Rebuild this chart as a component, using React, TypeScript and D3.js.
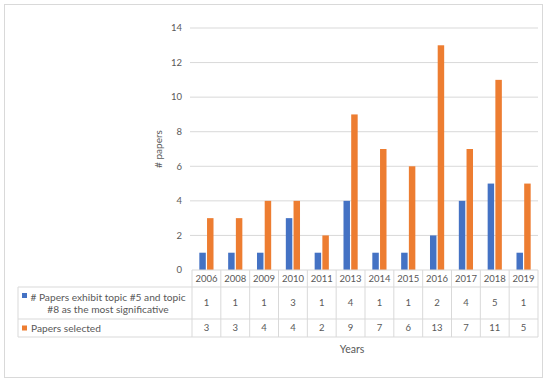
import React from 'react';
import * as d3 from 'd3';

const years = ['2006', '2008', '2009', '2010', '2011', '2013', '2014', '2015', '2016', '2017', '2018', '2019'];
const topicPapers = [1, 1, 1, 3, 1, 4, 1, 1, 2, 4, 5, 1];
const selectedPapers = [3, 3, 4, 4, 2, 9, 7, 6, 13, 7, 11, 5];
const yTicks = [0, 2, 4, 6, 8, 10, 12, 14];
const seriesNames = ['# Papers exhibit topic #5 and topic|#8 as the most significative', 'Papers selected'];
const seriesColors = ['#4472C4', '#ED7D31'];

const width = 550;
const height = 386;
const font = 'Lato, "Open Sans", sans-serif';
const textColor = '#595959';
const lineColor = '#d9d9d9';

export default function App() {
  const x = d3.scaleBand<string>().domain(years).range([192, 538]);
  const y = d3.scaleLinear().domain([0, 14]).range([270, 28]);
  const xInner = d3.scaleBand<string>().domain(['a', 'b'])
    .range([0, x.bandwidth()]).paddingInner(0.16).paddingOuter(0.95);

  const tableLeft = 18;
  const rowHeader = [270, 287];
  const row1 = [287, 319];
  const row2 = [319, 337];
  const series = [topicPapers, selectedPapers];
  const rows = [row1, row2];

  return (
    <svg width={width} height={height} style={{ position: 'absolute', left: 0, top: 0, background: '#fff' }}
      fontFamily={font}>
      <rect x={4.5} y={4.5} width={538} height={373} fill="#fff" stroke={lineColor} />

      {/* grid + y axis */}
      {yTicks.map(t => (
        <g key={t}>
          {t > 0 && <line x1={190} x2={538} y1={y(t)} y2={y(t)} stroke={lineColor} strokeWidth={1} />}
          <text x={182} y={y(t)} dy="0.35em" textAnchor="end" fontSize={9.5} fill={textColor}>{t}</text>
        </g>
      ))}
      <text transform={`translate(162,${(y(0) + y(14)) / 2}) rotate(-90)`} textAnchor="middle"
        fontSize={10} fill={textColor}># papers</text>

      {/* bars */}
      {years.map((yr, i) => (
        <g key={yr} transform={`translate(${x(yr)},0)`}>
          <rect x={xInner('a')} width={xInner.bandwidth()} y={y(topicPapers[i])}
            height={y(0) - y(topicPapers[i])} fill={seriesColors[0]} />
          <rect x={xInner('b')} width={xInner.bandwidth()} y={y(selectedPapers[i])}
            height={y(0) - y(selectedPapers[i])} fill={seriesColors[1]} />
        </g>
      ))}

      {/* data table */}
      <g stroke={lineColor} strokeWidth={1} fill="none">
        <line x1={192} x2={538} y1={rowHeader[0]} y2={rowHeader[0]} />
        <line x1={tableLeft} x2={538} y1={row1[0]} y2={row1[0]} />
        <line x1={tableLeft} x2={538} y1={row2[0]} y2={row2[0]} />
        <line x1={tableLeft} x2={538} y1={row2[1]} y2={row2[1]} />
        <line x1={tableLeft} x2={tableLeft} y1={row1[0]} y2={row2[1]} />
        {years.map(yr => (
          <line key={yr} x1={x(yr)} x2={x(yr)} y1={rowHeader[0]} y2={row2[1]} />
        ))}
        <line x1={538} x2={538} y1={rowHeader[0]} y2={row2[1]} />
      </g>
      {years.map((yr, i) => (
        <g key={yr} fontSize={9.5} fill={textColor} textAnchor="middle">
          <text x={x(yr)! + x.bandwidth() / 2} y={(rowHeader[0] + rowHeader[1]) / 2} dy="0.35em">{yr}</text>
          <text x={x(yr)! + x.bandwidth() / 2} y={(row1[0] + row1[1]) / 2} dy="0.35em">{topicPapers[i]}</text>
          <text x={x(yr)! + x.bandwidth() / 2} y={(row2[0] + row2[1]) / 2} dy="0.35em">{selectedPapers[i]}</text>
        </g>
      ))}

      {/* legend keys in table */}
      {series.map((_, s) => {
        const r = rows[s];
        const lines = seriesNames[s].split('|');
        const mid = (r[0] + r[1]) / 2;
        if (lines.length > 1) {
          return (
            <g key={s}>
              <rect x={22} y={mid - 10} width={5} height={5} fill={seriesColors[s]} />
              <text x={108} y={mid - 5.5} dy="0.35em" textAnchor="middle" fontSize={10.2} fill={textColor}>{lines[0]}</text>
              <text x={108} y={mid + 6.5} dy="0.35em" textAnchor="middle" fontSize={10.2} fill={textColor}>{lines[1]}</text>
            </g>
          );
        }
        return (
          <g key={s}>
            <rect x={22} y={mid - 2.5} width={5} height={5} fill={seriesColors[s]} />
            <text x={31} y={mid} dy="0.35em" fontSize={10.2} fill={textColor}>{lines[0]}</text>
          </g>
        );
      })}

      <text x={352} y={349} dy="0.35em" textAnchor="middle" fontSize={10.5} fill={textColor}>Years</text>
    </svg>
  );
}
